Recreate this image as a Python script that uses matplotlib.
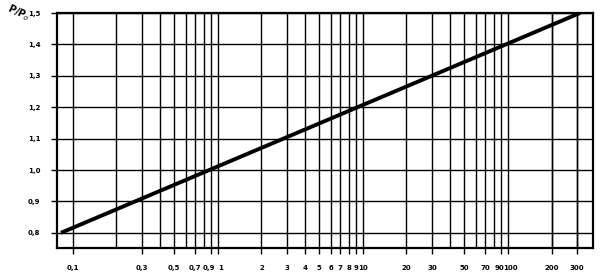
import numpy as np
import matplotlib
matplotlib.use("Agg")
import matplotlib.pyplot as plt
from matplotlib.transforms import ScaledTranslation

# Kennlinie P/P0 ueber log-Achse (Endpunkte)
line_x = [0.083, 314]
line_y = [0.8, 1.5]

# Gitter und Beschriftungen
grid_x = [m * 10.0**e for e in range(-1, 3) for m in range(1, 10)] + [200, 300]
xtick_vals = [0.1, 0.3, 0.5, 0.7, 0.9, 1, 2, 3, 4, 5, 6, 7, 8, 9, 10,
              20, 30, 50, 70, 90, 100, 200, 300]
xtick_labels = ["0,1", "0,3", "0,5", "0,7", "0,9", "1", "2", "3", "4", "5",
                "6", "7", "8", "9", "10", "20", "30", "50", "70", "90",
                "100", "200", "300"]
ytick_vals = [0.8, 0.9, 1.0, 1.1, 1.2, 1.3, 1.4, 1.5]
ytick_labels = ["0,8", "0,9", "1,0", "1,1", "1,2", "1,3", "1,4", "1,5"]

fig = plt.figure(figsize=(6.02, 2.77), dpi=100)
ax = fig.add_axes([0.0947, 0.105, 0.890, 0.848])

for gx in grid_x:
    ax.axvline(gx, color="black", linewidth=1.0, zorder=1)
for gy in ytick_vals:
    ax.axhline(gy, color="black", linewidth=1.0, zorder=1)

ax.plot(line_x, line_y, color="black", linewidth=2.8, solid_capstyle="butt", zorder=3)

ax.set_xscale("log")
ax.set_xlim(0.078, 385)
ax.set_ylim(0.752, 1.5)

ax.set_xticks(xtick_vals)
ax.set_xticklabels(xtick_labels, fontsize=5, fontweight="bold")
ax.xaxis.set_minor_locator(matplotlib.ticker.NullLocator())
ax.set_yticks(ytick_vals)
ax.set_yticklabels(ytick_labels, fontsize=5, fontweight="bold")
ax.tick_params(axis="both", length=4, width=1.0, pad=8, color="black")

# enge Beschriftungen etwas auseinanderruecken
for lab in ax.get_xticklabels():
    t = lab.get_text()
    if t == "0,9" or t == "90":
        lab.set_transform(lab.get_transform() + ScaledTranslation(-1.5/72, 0, fig.dpi_scale_trans))
    elif t == "1" or t == "100":
        lab.set_transform(lab.get_transform() + ScaledTranslation(2/72, 0, fig.dpi_scale_trans))

for sp in ax.spines.values():
    sp.set_linewidth(1.6)

fig.text(0.008, 0.955, "P/P$_o$", fontsize=7, fontweight="bold", rotation=-25,
         ha="left", va="center")

fig.savefig("out.png", dpi=100)
